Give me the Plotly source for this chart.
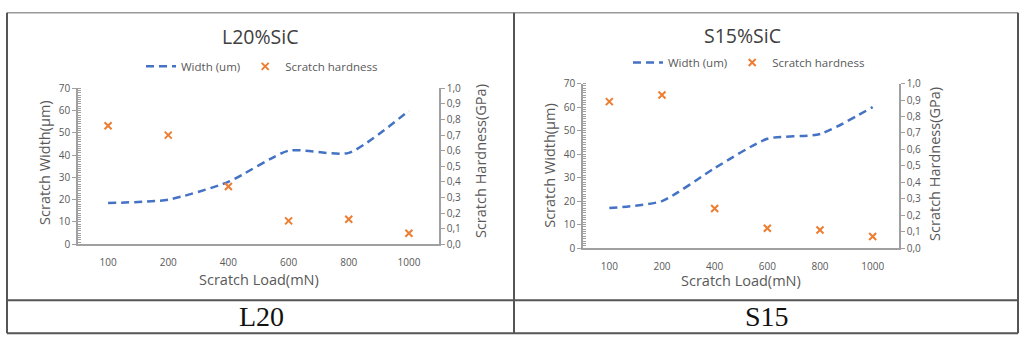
import plotly.graph_objects as go

# ---- data ----
loads = ["100", "200", "400", "600", "800", "1000"]
l20_width = [18.5, 20, 28, 42, 41, 60]
l20_hardness = [0.76, 0.70, 0.37, 0.15, 0.16, 0.07]
s15_width = [17, 20, 34, 46.5, 48.5, 60]
s15_hardness = [0.89, 0.93, 0.24, 0.12, 0.11, 0.07]
panel_titles = ["L20%SiC", "S15%SiC"]
panel_labels = ["L20", "S15"]

W, H = 1024, 344
FONT = "Open Sans"
BLUE = "#4472C4"
ORANGE = "#ED7D31"
TXT = "#595959"
AX = "#a0a0a0"

def px(x):
    return x / W

def py(y):
    return 1 - y / H

fig = go.Figure()

def add_panel(xa, ya, ya2, width, hard, legend):
    fig.add_trace(go.Scatter(
        x=loads, y=width, name="Width (um)", mode="lines",
        line=dict(color=BLUE, width=2.5, dash="8px,5px", shape="spline", smoothing=0.6),
        xaxis=xa, yaxis=ya, legend=legend))
    fig.add_trace(go.Scatter(
        x=loads, y=hard, name="Scratch hardness", mode="markers",
        marker=dict(symbol="x-thin", size=7, line=dict(width=2, color=ORANGE), color=ORANGE),
        xaxis=xa, yaxis=ya2, legend=legend))

add_panel("x", "y", "y2", l20_width, l20_hardness, "legend")
add_panel("x2", "y3", "y4", s15_width, s15_hardness, "legend2")

tickfont = dict(family=FONT, size=10, color=TXT)

def xaxis_cfg(dom, anchor):
    return dict(domain=dom, anchor=anchor, type="category", showgrid=False,
                range=[-0.5, len(loads) - 0.5], autorange=False,
                showline=True, linecolor=AX, linewidth=1.5, ticks="",
                tickfont=tickfont, zeroline=False, ticklabelstandoff=8)

def yleft_cfg(dom, anchor):
    return dict(domain=dom, anchor=anchor, range=[0, 70], dtick=10, showgrid=False,
                showline=True, linecolor=AX, linewidth=1.5, ticks="outside", ticklen=4,
                tickcolor=AX, tickfont=tickfont, zeroline=False,
                minor=dict(dtick=1, ticks="inside", ticklen=3, tickcolor=AX))

def yright_cfg(overlay, anchor):
    return dict(overlaying=overlay, anchor=anchor, side="right", range=[0, 1], dtick=0.1,
                tickformat=".1f", showgrid=False, showline=True, linecolor=AX,
                linewidth=1.5, ticks="outside", ticklen=4, tickcolor=AX,
                tickfont=tickfont, zeroline=False)

L_dom_x = [px(78), px(439)]
L_dom_y = [py(247), py(84)]
R_dom_x = [px(583), px(899)]
R_dom_y = [py(251), py(79)]

fig.update_layout(
    width=W, height=H,
    margin=dict(l=0, r=0, t=0, b=0),
    paper_bgcolor="white", plot_bgcolor="white",
    separators=", ",
    font=dict(family=FONT, color=TXT),
    xaxis=xaxis_cfg(L_dom_x, "y"),
    yaxis=yleft_cfg(L_dom_y, "x"),
    yaxis2=yright_cfg("y", "x"),
    xaxis2=xaxis_cfg(R_dom_x, "y3"),
    yaxis3=yleft_cfg(R_dom_y, "x2"),
    yaxis4=yright_cfg("y3", "x2"),
    legend=dict(orientation="h", x=px(141), y=py(61), xanchor="left", yanchor="middle",
                font=dict(family=FONT, size=11.5, color=TXT), bgcolor="rgba(0,0,0,0)",
                itemwidth=30),
    legend2=dict(orientation="h", x=px(628), y=py(57), xanchor="left", yanchor="middle",
                 font=dict(family=FONT, size=11.5, color=TXT), bgcolor="rgba(0,0,0,0)",
                 itemwidth=30),
    showlegend=True,
)

ann = []
# panel titles
ann.append(dict(text=panel_titles[0], x=px(260), y=py(30), font=dict(size=19.5, color="#404040")))
ann.append(dict(text=panel_titles[1], x=px(742), y=py(29), font=dict(size=19.5, color="#404040")))
# axis titles
ann.append(dict(text="Scratch Load(mN)", x=px(259), y=py(284), font=dict(size=14.5, color=TXT)))
ann.append(dict(text="Scratch Load(mN)", x=px(741), y=py(285), font=dict(size=14.5, color=TXT)))
ann.append(dict(text="Scratch Width(µm)", x=px(45), y=py(162), textangle=-90, font=dict(size=14.5, color=TXT)))
ann.append(dict(text="Scratch Hardness(GPa)", x=px(480), y=py(160), textangle=-90, font=dict(size=14.5, color=TXT)))
ann.append(dict(text="Scratch Width(µm)", x=px(550), y=py(165), textangle=-90, font=dict(size=14.5, color=TXT)))
ann.append(dict(text="Scratch Hardness(GPa)", x=px(935), y=py(163), textangle=-90, font=dict(size=14.5, color=TXT)))
# bottom row labels
ann.append(dict(text=panel_labels[0], x=px(261), y=py(323),
                font=dict(family="Liberation Serif", size=28, color="#111111")))
ann.append(dict(text=panel_labels[1], x=px(767), y=py(323),
                font=dict(family="Liberation Serif", size=28, color="#111111")))
for a in ann:
    a.update(xref="paper", yref="paper", showarrow=False, xanchor="center", yanchor="middle")
    a["font"].setdefault("family", FONT)
fig.update_layout(annotations=ann)

# table borders
LC = "#555555"
shapes = []
def line(x0, y0, x1, y1, color=LC, w=2):
    shapes.append(dict(type="line", xref="paper", yref="paper",
                       x0=px(x0), y0=py(y0), x1=px(x1), y1=py(y1),
                       line=dict(color=color, width=w)))
line(7, 5, 1018, 5, color="#9a9a9a", w=1.5)
line(7, 340, 1018, 340)
line(7, 5, 7, 340)
line(1018, 5, 1018, 340)
line(514, 5, 514, 340)
line(7, 305.5, 1018, 305.5)
fig.update_layout(shapes=shapes)

fig.write_html("out.html")
